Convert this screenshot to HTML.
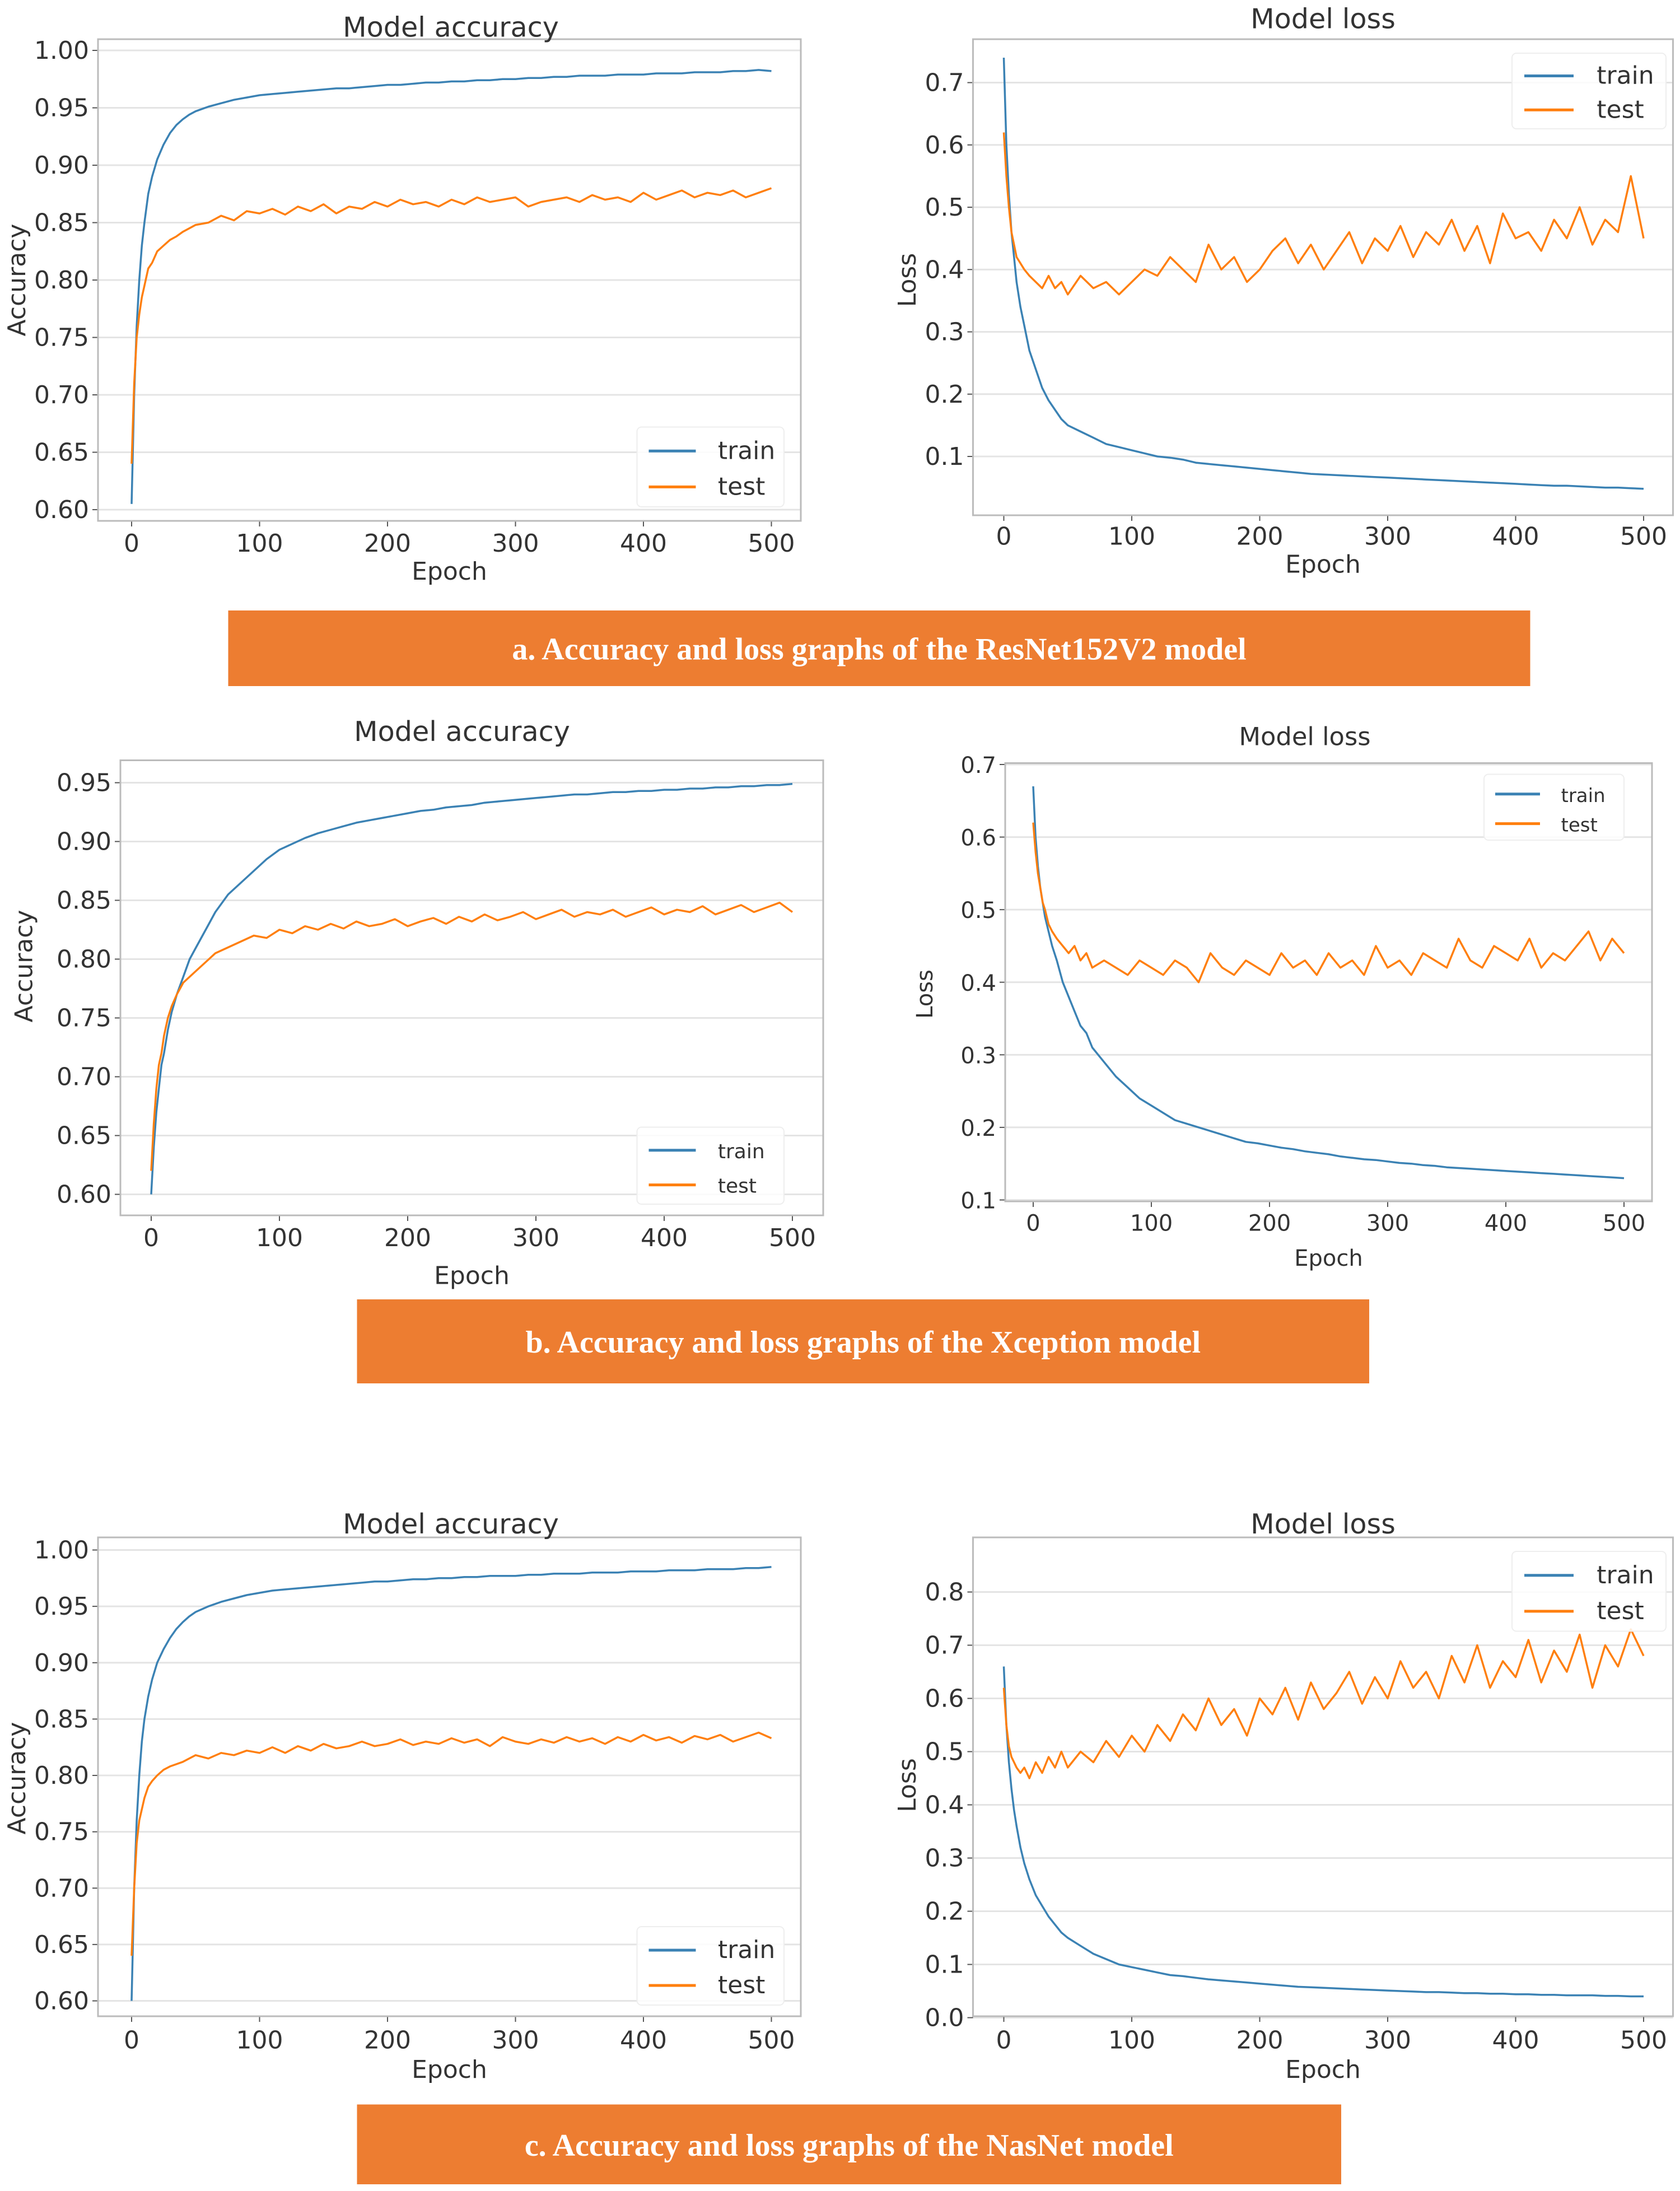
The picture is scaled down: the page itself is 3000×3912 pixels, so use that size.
<!DOCTYPE html>
<html><head><meta charset="utf-8"><style>
html,body{margin:0;padding:0;background:#fff;}
svg{display:block;}
text{font-family:"DejaVu Sans","Liberation Sans",sans-serif;}
.ban{font-family:"Liberation Serif",serif;font-weight:bold;}
</style></head><body>
<svg id="fig" width="3000" height="3912" viewBox="0 0 3000 3912" xmlns="http://www.w3.org/2000/svg"></svg>
<script>
// shared epochs
const epochs = [0,2,4,6,8,10,13,16,20,25,30,35,40,45,50,60,70,80,90,100,110,120,130,140,150,160,170,180,190,200,210,220,230,240,250,260,270,280,290,300,310,320,330,340,350,360,370,380,390,400,410,420,430,440,450,460,470,480,490,500];
const xTicks = [0,100,200,300,400,500];
const accTicksA = [0.60,0.65,0.70,0.75,0.80,0.85,0.90,0.95,1.00];
const accTicksB = [0.60,0.65,0.70,0.75,0.80,0.85,0.90,0.95];
const lossTicksA = [0.1,0.2,0.3,0.4,0.5,0.6,0.7];
const lossTicksB = [0.1,0.2,0.3,0.4,0.5,0.6,0.7];
const lossTicksC = [0.0,0.1,0.2,0.3,0.4,0.5,0.6,0.7,0.8];

const aAccTrain = [0.605,0.70,0.76,0.80,0.83,0.85,0.875,0.89,0.905,0.918,0.928,0.935,0.94,0.944,0.947,0.951,0.954,0.957,0.959,0.961,0.962,0.963,0.964,0.965,0.966,0.967,0.967,0.968,0.969,0.970,0.970,0.971,0.972,0.972,0.973,0.973,0.974,0.974,0.975,0.975,0.976,0.976,0.977,0.977,0.978,0.978,0.978,0.979,0.979,0.979,0.980,0.980,0.980,0.981,0.981,0.981,0.982,0.982,0.983,0.982];
const aAccTest = [0.64,0.71,0.75,0.77,0.785,0.795,0.81,0.815,0.825,0.83,0.835,0.838,0.842,0.845,0.848,0.85,0.856,0.852,0.86,0.858,0.862,0.857,0.864,0.86,0.866,0.858,0.864,0.862,0.868,0.864,0.87,0.866,0.868,0.864,0.87,0.866,0.872,0.868,0.87,0.872,0.864,0.868,0.87,0.872,0.868,0.874,0.87,0.872,0.868,0.876,0.87,0.874,0.878,0.872,0.876,0.874,0.878,0.872,0.876,0.88];
const aLossTrain = [0.74,0.6,0.52,0.46,0.42,0.38,0.34,0.31,0.27,0.24,0.21,0.19,0.175,0.16,0.15,0.14,0.13,0.12,0.115,0.11,0.105,0.1,0.098,0.095,0.09,0.088,0.086,0.084,0.082,0.08,0.078,0.076,0.074,0.072,0.071,0.07,0.069,0.068,0.067,0.066,0.065,0.064,0.063,0.062,0.061,0.06,0.059,0.058,0.057,0.056,0.055,0.054,0.053,0.053,0.052,0.051,0.05,0.05,0.049,0.048];
const aLossTest = [0.62,0.55,0.5,0.46,0.44,0.42,0.41,0.40,0.39,0.38,0.37,0.39,0.37,0.38,0.36,0.39,0.37,0.38,0.36,0.38,0.40,0.39,0.42,0.40,0.38,0.44,0.40,0.42,0.38,0.40,0.43,0.45,0.41,0.44,0.40,0.43,0.46,0.41,0.45,0.43,0.47,0.42,0.46,0.44,0.48,0.43,0.47,0.41,0.49,0.45,0.46,0.43,0.48,0.45,0.50,0.44,0.48,0.46,0.55,0.45];
const bAccTrain = [0.60,0.64,0.67,0.69,0.71,0.72,0.74,0.755,0.77,0.785,0.80,0.81,0.82,0.83,0.84,0.855,0.865,0.875,0.885,0.893,0.898,0.903,0.907,0.91,0.913,0.916,0.918,0.92,0.922,0.924,0.926,0.927,0.929,0.93,0.931,0.933,0.934,0.935,0.936,0.937,0.938,0.939,0.94,0.94,0.941,0.942,0.942,0.943,0.943,0.944,0.944,0.945,0.945,0.946,0.946,0.947,0.947,0.948,0.948,0.949];
const bAccTest = [0.62,0.66,0.69,0.71,0.72,0.735,0.75,0.76,0.77,0.78,0.785,0.79,0.795,0.80,0.805,0.81,0.815,0.82,0.818,0.825,0.822,0.828,0.825,0.83,0.826,0.832,0.828,0.83,0.834,0.828,0.832,0.835,0.83,0.836,0.832,0.838,0.833,0.836,0.84,0.834,0.838,0.842,0.836,0.84,0.838,0.842,0.836,0.84,0.844,0.838,0.842,0.84,0.845,0.838,0.842,0.846,0.84,0.844,0.848,0.84];
const bLossTrain = [0.67,0.6,0.56,0.53,0.51,0.49,0.47,0.45,0.43,0.40,0.38,0.36,0.34,0.33,0.31,0.29,0.27,0.255,0.24,0.23,0.22,0.21,0.205,0.2,0.195,0.19,0.185,0.18,0.178,0.175,0.172,0.17,0.167,0.165,0.163,0.16,0.158,0.156,0.155,0.153,0.151,0.15,0.148,0.147,0.145,0.144,0.143,0.142,0.141,0.14,0.139,0.138,0.137,0.136,0.135,0.134,0.133,0.132,0.131,0.13];
const bLossTest = [0.62,0.58,0.55,0.53,0.51,0.5,0.48,0.47,0.46,0.45,0.44,0.45,0.43,0.44,0.42,0.43,0.42,0.41,0.43,0.42,0.41,0.43,0.42,0.40,0.44,0.42,0.41,0.43,0.42,0.41,0.44,0.42,0.43,0.41,0.44,0.42,0.43,0.41,0.45,0.42,0.43,0.41,0.44,0.43,0.42,0.46,0.43,0.42,0.45,0.44,0.43,0.46,0.42,0.44,0.43,0.45,0.47,0.43,0.46,0.44];
const cAccTrain = [0.60,0.70,0.76,0.80,0.83,0.85,0.87,0.885,0.90,0.912,0.922,0.93,0.936,0.941,0.945,0.95,0.954,0.957,0.96,0.962,0.964,0.965,0.966,0.967,0.968,0.969,0.97,0.971,0.972,0.972,0.973,0.974,0.974,0.975,0.975,0.976,0.976,0.977,0.977,0.977,0.978,0.978,0.979,0.979,0.979,0.98,0.98,0.98,0.981,0.981,0.981,0.982,0.982,0.982,0.983,0.983,0.983,0.984,0.984,0.985];
const cAccTest = [0.64,0.70,0.74,0.76,0.77,0.78,0.79,0.795,0.80,0.805,0.808,0.81,0.812,0.815,0.818,0.815,0.82,0.818,0.822,0.82,0.825,0.82,0.826,0.822,0.828,0.824,0.826,0.83,0.826,0.828,0.832,0.827,0.83,0.828,0.833,0.829,0.832,0.826,0.834,0.83,0.828,0.832,0.829,0.834,0.83,0.833,0.828,0.834,0.83,0.836,0.831,0.834,0.829,0.835,0.832,0.836,0.83,0.834,0.838,0.833];
const cLossTrain = [0.66,0.55,0.48,0.43,0.39,0.36,0.32,0.29,0.26,0.23,0.21,0.19,0.175,0.16,0.15,0.135,0.12,0.11,0.1,0.095,0.09,0.085,0.08,0.078,0.075,0.072,0.07,0.068,0.066,0.064,0.062,0.06,0.058,0.057,0.056,0.055,0.054,0.053,0.052,0.051,0.05,0.049,0.048,0.048,0.047,0.046,0.046,0.045,0.045,0.044,0.044,0.043,0.043,0.042,0.042,0.042,0.041,0.041,0.04,0.04];
const cLossTest = [0.62,0.55,0.51,0.49,0.48,0.47,0.46,0.47,0.45,0.48,0.46,0.49,0.47,0.50,0.47,0.5,0.48,0.52,0.49,0.53,0.5,0.55,0.52,0.57,0.54,0.6,0.55,0.58,0.53,0.6,0.57,0.62,0.56,0.63,0.58,0.61,0.65,0.59,0.64,0.6,0.67,0.62,0.65,0.6,0.68,0.63,0.7,0.62,0.67,0.64,0.71,0.63,0.69,0.65,0.72,0.62,0.7,0.66,0.73,0.68];

const S = 2.5, NS = "http://www.w3.org/2000/svg";
const svg = document.getElementById('fig');
function mk(tag, attrs, parent, txt){
  const e = document.createElementNS(NS, tag);
  for (const k in attrs) e.setAttribute(k, attrs[k]);
  if (txt !== undefined) e.textContent = txt;
  (parent || svg).appendChild(e);
  return e;
}
const TRAIN = '#3b82b4', TEST = '#ff7f0e';

function panel(p){
  const g = mk('g', {});
  
  
  const L=p.frame[0]*S, R=p.frame[1]*S, T=p.frame[2]*S, B=p.frame[3]*S;
  const yv0=p.yRef[0], yp0=p.yRef[1]*S, yv1=p.yRef[2], yp1=p.yRef[3]*S;
  const yS = v => yp0 + (v - yv0) * (yp1 - yp0) / (yv1 - yv0);
  const xS = v => p.xRef[0]*S + v * (p.xRef[1]-p.xRef[0])*S / 500;
  p.yTicks.forEach(t => {
    const y = yS(t);
    const gl = mk('line', {x1:L, x2:R, y1:y, y2:y, stroke:'#e4e4e4', 'stroke-width':3}, g);
    
    
    mk('line', {x1:L-10, x2:L, y1:y, y2:y, stroke:'#555', 'stroke-width':2}, g);
    const tl = mk('text', {x:L-16, y:y+15, 'text-anchor':'end', 'font-size':p.fs, fill:'#333'}, g, t.toFixed(p.dec));
    
    
  });
  xTicks.forEach(t => {
    const x = xS(t);
    mk('line', {x1:x, x2:x, y1:B, y2:B+10, stroke:'#555', 'stroke-width':2}, g);
    const tl = mk('text', {x:x, y:p.xLabY*S+15, 'text-anchor':'middle', 'font-size':p.fs, fill:'#333'}, g, String(t));
    
    
  });
  const fr = mk('rect', {x:L, y:T, width:R-L, height:B-T, fill:'none', stroke:'#bbb', 'stroke-width':3}, g);
  
  
  [[p.train, TRAIN, 'train-line'], [p.test, TEST, 'test-line']].forEach(([arr, col, nm]) => {
    const n = Math.min(arr.length, epochs.length);
    let d = '';
    for (let i = 0; i < n; i++) d += (i ? 'L' : 'M') + xS(epochs[i]).toFixed(1) + ',' + yS(arr[i]).toFixed(1);
    const pl = mk('path', {d:d, fill:'none', stroke:col, 'stroke-width':3.5, 'stroke-linejoin':'round'}, g);
    
    
  });
  const ti = mk('text', {x:p.title[0]*S, y:p.title[1]*S+18, 'text-anchor':'middle', 'font-size':p.fs*1.12, fill:'#333'}, g, p.titleText);
  
  
  const xl = mk('text', {x:(L+R)/2, y:p.epochY*S+15, 'text-anchor':'middle', 'font-size':p.fs, fill:'#333'}, g, 'Epoch');
  
  
  const yl = mk('text', {x:0, y:0, 'text-anchor':'middle', 'font-size':p.fs, fill:'#333', transform:`translate(${p.yLab[0]*S+15},${p.yLab[1]*S}) rotate(-90)`}, g, p.yLabText);
  
  
  const lg = mk('g', {}, g);
  
  
  const lx=p.leg[0]*S, ly=p.leg[1]*S, lw=(p.leg[2]-p.leg[0])*S, lh=(p.leg[3]-p.leg[1])*S;
  mk('rect', {x:lx, y:ly, width:lw, height:lh, fill:'#fff', 'fill-opacity':0.85, stroke:'#eee', 'stroke-width':2, rx:8}, lg);
  [['train', TRAIN, 0.3], ['test', TEST, 0.75]].forEach(([lab, col, f]) => {
    const yy = ly + lh*f;
    mk('line', {x1:lx+lw*0.08, x2:lx+lw*0.4, y1:yy, y2:yy, stroke:col, 'stroke-width':5}, lg);
    const tt = mk('text', {x:lx+lw*0.55, y:yy+14, 'font-size':p.legFs, fill:'#333'}, lg, lab);
    
    
  });
}

function banner(x0,x1,y0,y1,txt){
  const r = mk('rect', {x:x0*S, y:y0*S, width:(x1-x0)*S, height:(y1-y0)*S, fill:'#ed7d31'});
  
  
  const t = mk('text', {x:(x0+x1)/2*S, y:(y0+y1)/2*S+20, 'text-anchor':'middle', 'font-size':56, fill:'#fff', class:'ban'}, svg, txt);
  
  
}

panel({name:'resnet-accuracy-chart', frame:[70,572,28,372], yRef:[1.0,36,0.6,364], xRef:[94,551], yTicks:accTicksA, dec:2, xLabY:388, epochY:408, title:[322,19], titleText:'Model accuracy', yLab:[12,200], yLabText:'Accuracy', leg:[455,305,560,362], fs:44, legFs:44, train:aAccTrain, test:aAccTest});
panel({name:'resnet-loss-chart', frame:[695,1195,28,368], yRef:[0.7,59,0.1,326], xRef:[717,1174], yTicks:lossTicksA, dec:1, xLabY:383, epochY:403, title:[945,13], titleText:'Model loss', yLab:[648,200], yLabText:'Loss', leg:[1080,38,1190,92], fs:44, legFs:44, train:aLossTrain, test:aLossTest});
banner(163,1093,436,490,'a. Accuracy and loss graphs of the ResNet152V2 model');

panel({name:'xception-accuracy-chart', frame:[86,588,543,868], yRef:[0.95,559,0.6,853], xRef:[108,566], yTicks:accTicksB, dec:2, xLabY:884, epochY:911, title:[330,522], titleText:'Model accuracy', yLab:[17,690], yLabText:'Accuracy', leg:[455,805,560,860], fs:44, legFs:36, train:bAccTrain, test:bAccTest});
panel({name:'xception-loss-chart', frame:[718,1180,545,858], yRef:[0.7,546,0.1,857], xRef:[738,1160], yTicks:lossTicksB, dec:1, xLabY:873, epochY:898, title:[932,525], titleText:'Model loss', yLab:[660,710], yLabText:'Loss', leg:[1060,553,1160,600], fs:40, legFs:34, train:bLossTrain, test:bLossTest});
banner(255,978,928,988,'b. Accuracy and loss graphs of the Xception model');

panel({name:'nasnet-accuracy-chart', frame:[70,572,1098,1440], yRef:[1.0,1107,0.6,1429], xRef:[94,551], yTicks:accTicksA, dec:2, xLabY:1457, epochY:1478, title:[322,1088], titleText:'Model accuracy', yLab:[12,1270], yLabText:'Accuracy', leg:[455,1376,560,1432], fs:44, legFs:44, train:cAccTrain, test:cAccTest});
panel({name:'nasnet-loss-chart', frame:[695,1195,1098,1440], yRef:[0.8,1137,0.0,1441], xRef:[717,1174], yTicks:lossTicksC, dec:1, xLabY:1457, epochY:1478, title:[945,1088], titleText:'Model loss', yLab:[648,1275], yLabText:'Loss', leg:[1080,1108,1190,1165], fs:44, legFs:44, train:cLossTrain, test:cLossTest});
banner(255,958,1503,1560,'c. Accuracy and loss graphs of the NasNet model');
</script>
</body></html>
